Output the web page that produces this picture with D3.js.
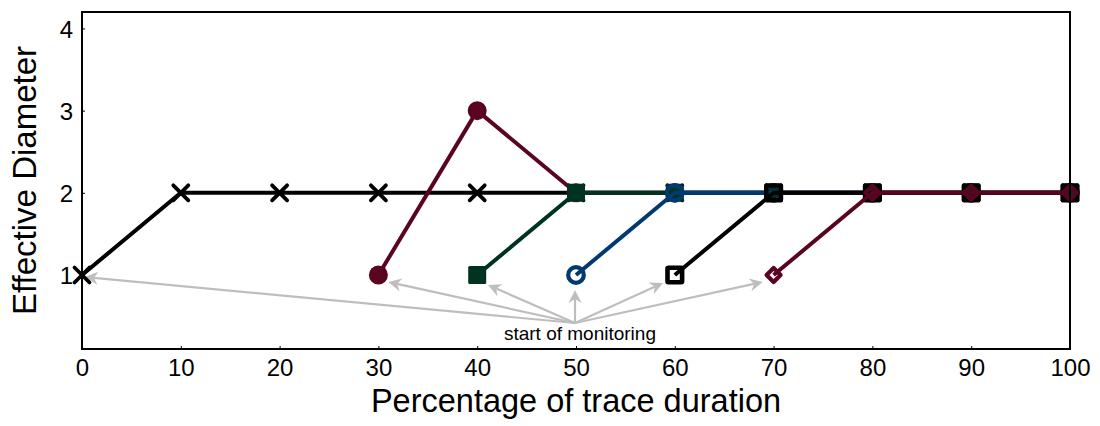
<!DOCTYPE html>
<html>
<head>
<meta charset="utf-8">
<script src="https://cdn.jsdelivr.net/npm/d3@7"></script>
<style>
  html, body { margin: 0; padding: 0; background: #fff; }
  svg { display: block; font-family: "Liberation Sans", Arial, Helvetica, sans-serif; }
</style>
</head>
<body>
<svg id="chart" width="1100" height="426"></svg>
<script>
// Percentage of trace duration at which each sample was taken
const pct = [0, 10, 20, 30, 40, 50, 60, 70, 80, 90, 100];

// Effective diameter per monitoring start (null = not yet monitored)
const fromStart  = [1, 2, 2, 2, 2, 2, 2, 2, 2, 2, 2];
const from30     = [null, null, null, 1, 3, 2, 2, 2, 2, 2, 2];
const from40     = [null, null, null, null, 1, 2, 2, 2, 2, 2, 2];
const from50     = [null, null, null, null, null, 1, 2, 2, 2, 2, 2];
const from60     = [null, null, null, null, null, null, 1, 2, 2, 2, 2];
const from70     = [null, null, null, null, null, null, null, 1, 2, 2, 2];

const xTickValues = [0, 10, 20, 30, 40, 50, 60, 70, 80, 90, 100];
const yTickValues = [1, 2, 3, 4];

const xTitle = "Percentage of trace duration";
const yTitle = "Effective Diameter";
const noteText = "start of monitoring";

// Arrow tail (shared) and heads, in data units
const noteTail = [49.9, 0.416];
const noteHeads = [[0.3, 0.976], [31.0, 0.915], [41.1, 0.879], [49.9, 0.818], [58.8, 0.903], [68.9, 0.915]];

const svg = d3.select("#chart");
const margin = { left: 82, right: 30, top: 12, bottom: 77 };
const W = 1100, H = 426;

const x = d3.scaleLinear().domain([0, 100]).range([margin.left, W - margin.right]);
const y = d3.scaleLinear().domain([0.1, 4.2]).range([H - margin.bottom, margin.top]);

// Ticks (small, inward) and labels
const fmt = d3.format("d");
const xAxis = d3.axisBottom(x).tickValues(xTickValues).tickFormat(fmt)
  .tickSizeInner(-3).tickSizeOuter(0).tickPadding(8);
const yAxis = d3.axisLeft(y).tickValues(yTickValues).tickFormat(fmt)
  .tickSizeInner(-3).tickSizeOuter(0).tickPadding(9);

const gx = svg.append("g").attr("transform", `translate(0,${H - margin.bottom})`).call(xAxis);
const gy = svg.append("g").attr("transform", `translate(${margin.left},0)`).call(yAxis);
[gx, gy].forEach(g => {
  g.select(".domain").remove();
  g.selectAll(".tick line").attr("stroke", "#000").attr("stroke-width", 1);
  g.selectAll(".tick text").attr("fill", "#000").style("font-size", "24px")
    .style("font-family", '"Liberation Sans", Arial, sans-serif');
});
gx.selectAll(".tick text").attr("dy", "0.78em");
gy.selectAll(".tick text").attr("dy", "0.36em");

// Annotation arrows
const noteG = svg.append("g");
const grey = "#bebebe";
const tx = x(noteTail[0]), ty = y(noteTail[1]);
noteHeads.forEach(h => {
  const hx = x(h[0]), hy = y(h[1]);
  const dx = hx - tx, dy = hy - ty, len = Math.hypot(dx, dy);
  const ux = dx / len, uy = dy / len;
  const L = 13, Wd = 6.5, notch = 4;
  const bx = hx - ux * L, by = hy - uy * L;
  noteG.append("line")
    .attr("x1", tx).attr("y1", ty)
    .attr("x2", hx - ux * (L - notch)).attr("y2", hy - uy * (L - notch))
    .attr("stroke", grey).attr("stroke-width", 2.2);
  const p = [
    [hx, hy],
    [bx - uy * Wd, by + ux * Wd],
    [hx - ux * (L - notch), hy - uy * (L - notch)],
    [bx + uy * Wd, by - ux * Wd]
  ];
  noteG.append("path").attr("d", "M" + p.map(q => q.join(",")).join("L") + "Z").attr("fill", grey);
});
noteG.append("text")
  .attr("x", x(50.4)).attr("y", y(0.21))
  .attr("text-anchor", "middle")
  .style("font-size", "19px").attr("fill", "#000")
  .text(noteText);

// Series
const maroon = "#5a0520", green = "#00331f", blue = "#003a70", black = "#000";
const series = [
  { values: fromStart, color: black,  marker: "cross" },
  { values: from30,    color: maroon, marker: "dot" },
  { values: from40,    color: green,  marker: "block" },
  { values: from50,    color: blue,   marker: "ring" },
  { values: from60,    color: black,  marker: "box" },
  { values: from70,    color: maroon, marker: "diamond" }
];

const line = d3.line()
  .defined(d => d.v !== null)
  .x(d => x(d.p)).y(d => y(d.v));

series.forEach(s => {
  const pts = pct.map((p, i) => ({ p, v: s.values[i] }));
  const g = svg.append("g");
  g.append("path").datum(pts)
    .attr("d", line).attr("fill", "none")
    .attr("stroke", s.color).attr("stroke-width", 4).attr("stroke-linejoin", "round");
  const m = g.selectAll("g.m").data(pts.filter(d => d.v !== null)).join("g")
    .attr("transform", d => `translate(${x(d.p)},${y(d.v)})`);
  if (s.marker === "cross") {
    m.append("path").attr("d", "M-7.5,-7.5L7.5,7.5M-7.5,7.5L7.5,-7.5")
      .attr("stroke", s.color).attr("stroke-width", 3.8).attr("stroke-linecap", "round");
  } else if (s.marker === "dot") {
    m.append("circle").attr("r", 9.5).attr("fill", s.color);
  } else if (s.marker === "block") {
    m.append("rect").attr("x", -9).attr("y", -9).attr("width", 18).attr("height", 18)
      .attr("rx", 1.5).attr("fill", s.color);
  } else if (s.marker === "ring") {
    m.append("circle").attr("r", 7.8).attr("fill", "none")
      .attr("stroke", s.color).attr("stroke-width", 4.2);
  } else if (s.marker === "box") {
    m.append("rect").attr("x", -7.3).attr("y", -7.3).attr("width", 14.6).attr("height", 14.6)
      .attr("rx", 1).attr("fill", "none").attr("stroke", s.color).attr("stroke-width", 4.6);
  } else if (s.marker === "diamond") {
    m.append("path").attr("d", "M0,-7L7,0L0,7L-7,0Z").attr("fill", "none")
      .attr("stroke", s.color).attr("stroke-width", 4.2).attr("stroke-linejoin", "round");
  }
});

// Plot frame drawn over the data
svg.append("rect")
  .attr("x", x(0)).attr("y", margin.top)
  .attr("width", x(100) - x(0)).attr("height", H - margin.bottom - margin.top)
  .attr("fill", "none").attr("stroke", "#000").attr("stroke-width", 2);

// Axis titles
svg.append("text")
  .attr("x", (x(0) + x(100)) / 2).attr("y", 412)
  .attr("text-anchor", "middle").style("font-size", "32.5px").attr("fill", "#000")
  .text(xTitle);
svg.append("text")
  .attr("transform", `translate(36,${(margin.top + H - margin.bottom) / 2}) rotate(-90)`)
  .attr("text-anchor", "middle").style("font-size", "33px").attr("fill", "#000")
  .text(yTitle);
</script>
</body>
</html>
